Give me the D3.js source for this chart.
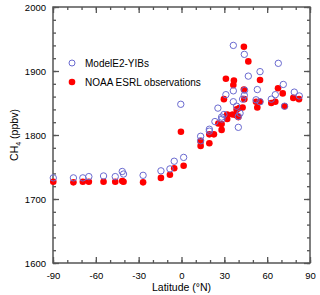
<!DOCTYPE html>
<html>
<head>
<meta charset="utf-8">
<script src="https://cdn.jsdelivr.net/npm/d3@7"></script>
<style>
  body { margin: 0; background: #fff; }
  svg { font-family: "Liberation Sans", Arial, sans-serif; }
  .axis path { display: none; }
  .axis line { stroke: #555; stroke-width: 1.3; }
  .axis text { font-size: 9.5px; fill: #000; }
</style>
</head>
<body>
<script>
// ModelE2-YIBs (open circles)
var modelLat = [-89.8, -75.7, -69.1, -64.9, -54.6, -46.4, -41.5, -40.6, -26.9, -14.4, -8.1, -5.1, 1.5, -0.5,
  13.4, 13.4, 19.5, 19.5, 23.4, 25.5, 28.1, 28.3, 29.7, 31.1, 36.3, 36.3, 36.3, 38.6, 39.8, 39.8, 41,
  42.8, 44, 44.2, 44, 46.8, 52.2, 53.1, 55, 55, 62.9, 65.7, 67.8, 71.3, 72.2, 79, 82.5];
var modelCH4 = [1733, 1733, 1733, 1735, 1736, 1735, 1743, 1739, 1737, 1744, 1747, 1759, 1765, 1848,
  1798, 1791, 1809, 1806, 1821, 1842, 1828, 1825, 1832, 1863, 1940, 1869, 1852, 1845, 1829, 1812, 1834,
  1856, 1926, 1870, 1862, 1892, 1855, 1871, 1899, 1852, 1856, 1863, 1912, 1879, 1845, 1867, 1861];

// NOAA ESRL observations (filled circles)
var obsLat = [-89.8, -75.7, -69.1, -64.9, -54.6, -46.4, -41.5, -40.6, -26.9, -14.4, -8.1, -5.1, 1.5, -0.4,
  13.4, 13.4, 19.5, 19.5, 22.7, 25.8, 28.1, 28.1, 29.7, 31.1, 32, 32, 35.8, 36.3, 36.7, 38.2, 38.6, 39.8,
  40.5, 42.8, 43.7, 43.7, 44, 46.8, 52.2, 53.1, 55, 55, 62.9, 65.7, 67.6, 70.9, 72.2, 78.3, 82.3];
var obsCH4 = [1727, 1726, 1727, 1727, 1727, 1727, 1728, 1727, 1726, 1733, 1738, 1748, 1752, 1805,
  1790, 1783, 1801, 1787, 1801, 1818, 1817, 1808, 1856, 1888, 1832, 1825, 1832, 1878, 1885, 1831, 1840, 1828,
  1842, 1843, 1938, 1871, 1856, 1915, 1852, 1843, 1886, 1852, 1850, 1852, 1873, 1865, 1845, 1858, 1856];

var xTicks = [-90, -60, -30, 0, 30, 60, 90];
var yTicks = [1600, 1700, 1800, 1900, 2000];
var legendLabels = ["ModelE2-YIBs", "NOAA ESRL observations"];

var width = 320, height = 295,
    mLeft = 53, mRight = 310, mTop = 7, mBottom = 263;

var x = d3.scaleLinear().domain([-90, 90]).range([mLeft, mRight]);
var y = d3.scaleLinear().domain([1600, 2000]).range([mBottom, mTop]);
var plain = function(d){ return String(d); };

var svg = d3.select("body").append("svg")
    .attr("width", width)
    .attr("height", height);

// ticks, inward on all four sides
function addAxis(axis, tx, ty) {
    svg.append("g").attr("class", "axis")
        .attr("transform", "translate(" + tx + "," + ty + ")")
        .call(axis);
}
var xMinor = d3.range(-90, 91, 10), yMinor = d3.range(1600, 2001, 20);

addAxis(d3.axisBottom(x).tickValues(xTicks).tickSize(-6).tickPadding(9).tickFormat(plain), 0, mBottom);
addAxis(d3.axisBottom(x).tickValues(xMinor).tickSize(-3).tickFormat(""), 0, mBottom);
addAxis(d3.axisTop(x).tickValues(xTicks).tickSize(-6).tickFormat(""), 0, mTop);
addAxis(d3.axisTop(x).tickValues(xMinor).tickSize(-3).tickFormat(""), 0, mTop);
addAxis(d3.axisLeft(y).tickValues(yTicks).tickSize(-6).tickPadding(7).tickFormat(plain), mLeft, 0);
addAxis(d3.axisLeft(y).tickValues(yMinor).tickSize(-3).tickFormat(""), mLeft, 0);
addAxis(d3.axisRight(y).tickValues(yTicks).tickSize(-6).tickFormat(""), mRight, 0);
addAxis(d3.axisRight(y).tickValues(yMinor).tickSize(-3).tickFormat(""), mRight, 0);

svg.append("rect")
    .attr("x", mLeft).attr("y", mTop)
    .attr("width", mRight - mLeft).attr("height", mBottom - mTop)
    .attr("fill", "none").attr("stroke", "#555").attr("stroke-width", 1.5);

// observations first, model circles on top
svg.selectAll("circle.obs")
    .data(obsLat)
  .enter().append("circle")
    .attr("class", "obs")
    .attr("cx", function(d){ return x(d); })
    .attr("cy", function(d, i){ return y(obsCH4[i]); })
    .attr("r", 3.3)
    .attr("fill", "#ff0000");

svg.selectAll("circle.model")
    .data(modelLat)
  .enter().append("circle")
    .attr("class", "model")
    .attr("cx", function(d){ return x(d); })
    .attr("cy", function(d, i){ return y(modelCH4[i]); })
    .attr("r", 3.2)
    .attr("fill", "none")
    .attr("stroke", "#6b6bd0")
    .attr("stroke-width", 1);

// legend
var lg = svg.append("g");
lg.append("circle").attr("cx", 72).attr("cy", 63).attr("r", 3)
    .attr("fill", "none").attr("stroke", "#6b6bd0").attr("stroke-width", 1);
lg.append("circle").attr("cx", 72).attr("cy", 82).attr("r", 3.3).attr("fill", "#ff0000");
lg.selectAll("text")
    .data(legendLabels)
  .enter().append("text")
    .attr("x", 85)
    .attr("y", function(d, i){ return 66.5 + i * 19; })
    .attr("font-size", 10)
    .text(function(d){ return d; });

// axis titles
svg.append("text")
    .attr("x", (mLeft + mRight) / 2).attr("y", 291)
    .attr("text-anchor", "middle").attr("font-size", 10.5)
    .text("Latitude (°N)");

var yl = svg.append("text")
    .attr("transform", "translate(18," + ((mTop + mBottom) / 2) + ") rotate(-90)")
    .attr("text-anchor", "middle").attr("font-size", 10.5);
yl.append("tspan").text("CH");
yl.append("tspan").attr("font-size", 7).attr("dy", 3).text("4");
yl.append("tspan").attr("dy", -3).text(" (ppbv)");
</script>
</body>
</html>
